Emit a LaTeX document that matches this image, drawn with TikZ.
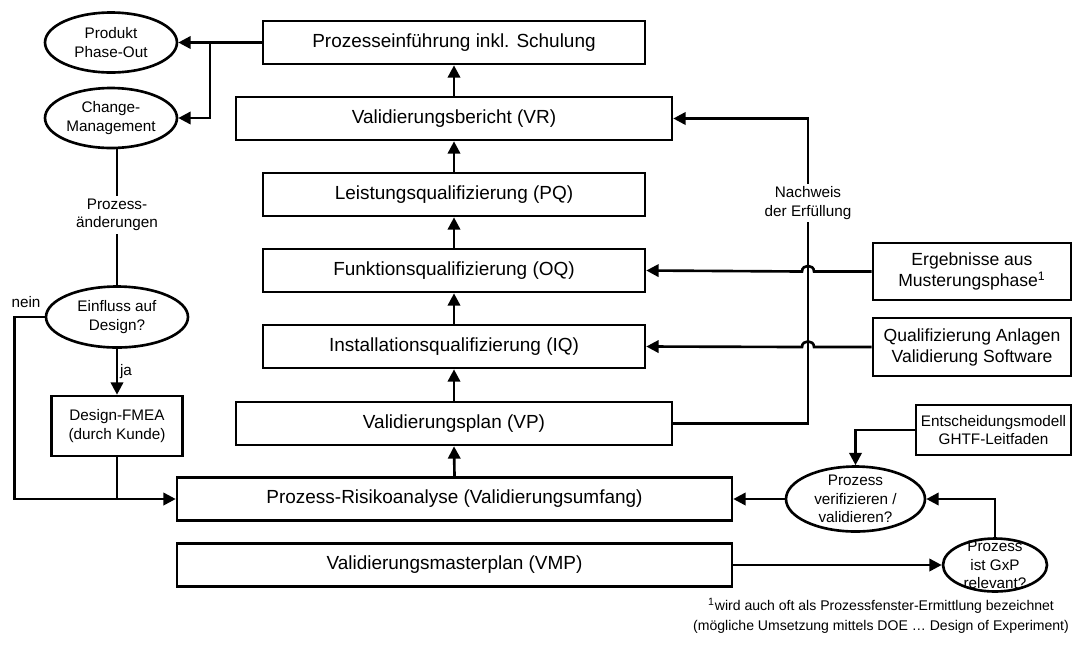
\documentclass[tikz,border=0pt]{standalone}
\usepackage{fontspec}
\setmainfont{Liberation Sans}
\usetikzlibrary{shapes.geometric,arrows.meta}

\begin{document}
\begin{tikzpicture}[x=0.02cm,y=-0.02cm,line width=1.5pt]
\tikzset{kasten/.style={draw, rectangle, inner sep=0pt, minimum height=0.86cm, font=\fontsize{10.8}{12.5}\selectfont},
  oval/.style={draw, ellipse, inner xsep=0pt, inner ysep=-5pt, align=center, font=\fontsize{8.7}{10.5}\selectfont},
  klein/.style={inner sep=1pt, align=center, font=\fontsize{8.7}{10.5}\selectfont},
  pfeil/.style={-{Triangle[length=7pt,width=7pt]}}}
\useasboundingbox (0,0) rectangle (1074,647);
% Hauptkette
\node[kasten, minimum width=7.64cm] (PE) at (454,42.5) {Prozesseinführung inkl. Schulung};
\node[kasten, minimum width=8.72cm] (VR) at (454,118.5) {Validierungsbericht (VR)};
\node[kasten, minimum width=7.64cm] (PQ) at (454,194.5) {Leistungsqualifizierung (PQ)};
\node[kasten, minimum width=7.64cm] (OQ) at (454,270.5) {Funktionsqualifizierung (OQ)};
\node[kasten, minimum width=7.64cm] (IQ) at (454,346.5) {Installationsqualifizierung (IQ)};
\node[kasten, minimum width=8.72cm] (VP) at (454,423.5) {Validierungsplan (VP)};
\node[kasten, minimum width=11.1cm] (RA) at (454.5,499) {Prozess-Risikoanalyse (Validierungsumfang)};
\node[kasten, minimum width=11.1cm] (VMP) at (454.5,565) {Validierungsmasterplan (VMP)};
% linke Seite
\node[oval, minimum width=2.64cm, minimum height=1.2cm] (PO) at (111,42.5) {Produkt\\Phase-Out};
\node[oval, minimum width=2.64cm, minimum height=1.2cm] (CM) at (111,118) {Change-\\Management};
\node[oval, minimum width=2.84cm, minimum height=1.22cm] (EI) at (117,317) {Einfluss auf\\Design?};
\node[draw, klein, inner sep=0pt, minimum width=2.62cm, minimum height=1.2cm] (FM) at (117,426) {Design-FMEA\\(durch Kunde)};
\node[klein] (AE) at (117,215) {Prozess-\\änderungen};
\node[klein] (NE) at (26,302) {nein};
\coordinate (AB) at (210,42.5);
% rechte Seite
\node[draw, inner sep=0pt, align=center, minimum width=3.96cm, minimum height=1.14cm, font=\fontsize{10}{11.9}\selectfont] (ER) at (972,271.5) {Ergebnisse aus\\Musterungsphase\textsuperscript{1}};
\node[draw, inner sep=0pt, align=center, minimum width=3.96cm, minimum height=1.16cm, font=\fontsize{10}{11.9}\selectfont] (QA) at (972,347) {Qualifizierung Anlagen\\Validierung Software};
\node[draw, klein, inner sep=0pt, minimum width=3.1cm, minimum height=1cm] (EM) at (993.5,430) {Entscheidungsmodell\\GHTF-Leitfaden};
\node[oval, minimum width=2.78cm, minimum height=1.3cm] (PV) at (855.5,499) {Prozess\\verifizieren /\\validieren?};
\node[oval, minimum width=2.08cm, minimum height=1.06cm] (GX) at (995,565) {Prozess\\ist GxP\\relevant?};
\node[klein] (NW) at (808,203) {Nachweis\\der Erfüllung};
\node[align=center, font=\fontsize{8}{11.3}\selectfont] (FN) at (881,616) {\textsuperscript{1}wird auch oft als Prozessfenster-Ermittlung bezeichnet\\(mögliche Umsetzung mittels DOE \dots\ Design of Experiment)};
% Verbindungen
\draw[pfeil] (RA.north) -- (VP.south);
\draw[pfeil] (VP.north) -- (IQ.south);
\draw[pfeil] (IQ.north) -- (OQ.south);
\draw[pfeil] (OQ.north) -- (PQ.south);
\draw[pfeil] (PQ.north) -- (VR.south);
\draw[pfeil] (VR.north) -- (PE.south);
\draw[pfeil] (PE.west) -- (PO.east);
\draw[pfeil] (AB) |- (CM.east);
\draw (AE |- CM.south) -- (AE);
\draw (AE) -- (EI.north);
\draw[pfeil] (EI.south) -- node[klein, right] {ja} (FM.north);
\draw[pfeil] (EI.west) -- ++(-30,0) |- (RA.west);
\draw (FM.south) -- (FM.south |- RA.west);
\draw (VP.east) -| (NW);
\draw[pfeil] (NW) |- (VR.east);
\draw[pfeil] (ER.west) -- (814,271.5) .. controls (814,264) and (802,264) .. (802,271.5) -- (OQ.east);
\draw[pfeil] (QA.west) -- (814,347) .. controls (814,339.5) and (802,339.5) .. (802,347) -- (IQ.east);
\draw[pfeil] (EM.west) -| (PV.north);
\draw[pfeil] (PV.west) -- (RA.east);
\draw[pfeil] (GX.north) |- (PV.east);
\draw[pfeil] (VMP.east) -- (GX.west);
\end{tikzpicture}
\end{document}
